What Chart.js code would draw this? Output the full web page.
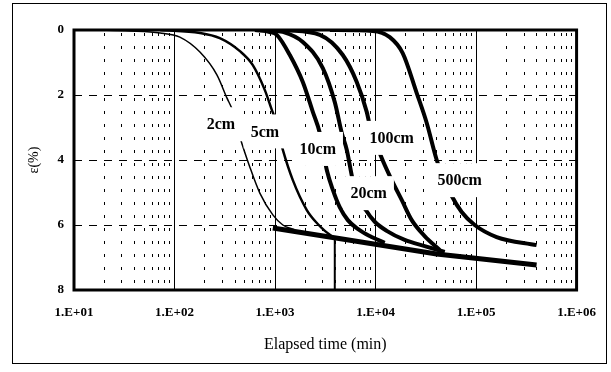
<!DOCTYPE html>
<html>
<head>
<meta charset="utf-8">
<script src="https://cdn.jsdelivr.net/npm/chart.js@4.4.1/dist/chart.umd.min.js"></script>
<style>
  html, body { margin: 0; padding: 0; background: #fff; }
</style>
</head>
<body>
<canvas id="chart" width="611" height="372"></canvas>
<script>
// elapsed time (min) / strain (%)
const t2 = [16, 36, 72, 113, 179, 264, 332, 380, 447, 562, 706, 951, 1196, 1574];
const e2 = [0, 0.03, 0.09, 0.22, 0.68, 1.38, 2.09, 2.49, 3.29, 4.22, 5.02, 5.69, 6.0, 6.15];

const t5 = [72, 179, 282, 447, 601, 792, 929, 995, 1196, 1503, 2070, 2661, 3130, 3758];
const e5 = [0, 0.09, 0.25, 0.65, 1.08, 1.85, 2.46, 2.71, 3.69, 4.62, 5.54, 5.97, 6.18, 6.37];

const t10 = [631, 887, 1042, 1403, 1889, 2376, 2789, 3273, 3760, 4400, 5300, 6650, 8750, 12330];
const e10 = [0, 0.06, 0.15, 0.77, 1.6, 2.52, 3.17, 4.31, 4.92, 5.45, 5.85, 6.12, 6.34, 6.55];

const t20 = [792, 1196, 1889, 2987, 3930, 4613, 5176, 5935, 6650, 8000, 9820, 12920, 19500, 30800, 48800];
const e20 = [0, 0.06, 0.37, 1.17, 2.22, 3.17, 3.69, 4.62, 5.08, 5.54, 5.9, 6.18, 6.46, 6.65, 6.83];

const t100 = [1251, 2789, 4720, 6500, 8170, 8750, 11520, 14490, 18200, 22900, 30800, 43500];
const e100 = [0, 0.15, 0.77, 1.6, 2.52, 2.92, 3.94, 4.62, 5.23, 5.85, 6.34, 6.77];

const t500 = [3510, 9380, 13840, 18620, 25680, 32300, 40600, 47600, 57100, 71900, 96900, 160200, 400000];
const e500 = [0, 0.03, 0.22, 0.71, 1.94, 2.86, 4.0, 4.55, 5.1, 5.6, 6.0, 6.37, 6.62];

// secondary compression line and drop line
const tLine = [951, 40600, 400000];
const eLine = [6.09, 6.89, 7.23];
const tDrop = [3930, 3930];
const eDrop = [6.37, 8];

// curve labels
const labelText = ['2cm', '5cm', '10cm', '20cm', '100cm', '500cm'];
const labelT = [289, 792, 2660, 8550, 14450, 68700];
const labelE = [2.9, 3.12, 3.66, 5.02, 3.32, 4.62];

// axes
const xTickValues = [10, 100, 1000, 10000, 100000, 1000000];
const xTickLabels = ['1.E+01', '1.E+02', '1.E+03', '1.E+04', '1.E+05', '1.E+06'];
const yTickValues = [0, 2, 4, 6, 8];

const serif = '"Liberation Serif", "Times New Roman", serif';

function pts(t, e) {
  return t.map((v, i) => ({ x: v, y: e[i] }));
}

function curve(t, e, w) {
  return {
    data: pts(t, e),
    borderColor: '#000',
    borderWidth: w,
    pointRadius: 0,
    fill: false,
    cubicInterpolationMode: 'monotone'
  };
}

function isMajor(v) {
  const l = Math.log10(v);
  return Math.abs(l - Math.round(l)) < 1e-9;
}

const curveLabels = {
  id: 'curveLabels',
  afterDatasetsDraw(chart) {
    const { ctx, scales: { x, y } } = chart;
    ctx.save();
    ctx.font = 'bold 16px ' + serif;
    ctx.textAlign = 'center';
    ctx.textBaseline = 'middle';
    labelText.forEach((txt, i) => {
      const px = x.getPixelForValue(labelT[i]);
      const py = y.getPixelForValue(labelE[i]);
      const w = ctx.measureText(txt).width;
      ctx.fillStyle = '#fff';
      ctx.fillRect(px - w / 2 - 7, py - 17, w + 14, 34);
      ctx.fillStyle = '#000';
      ctx.fillText(txt, px, py + 1);
    });
    ctx.restore();
  }
};

const frame = {
  id: 'frame',
  afterDraw(chart) {
    const { ctx, chartArea: a } = chart;
    ctx.save();
    ctx.strokeStyle = '#000';
    ctx.lineWidth = 1;
    ctx.strokeRect(12.5, 3.5, 594, 360);
    ctx.lineWidth = 3;
    ctx.strokeRect(a.left, a.top, a.right - a.left, a.bottom - a.top);
    ctx.restore();
  }
};

new Chart(document.getElementById('chart'), {
  type: 'line',
  data: {
    datasets: [
      curve(t2, e2, 1.5),
      curve(t5, e5, 2.5),
      curve(t10, e10, 4),
      curve(t20, e20, 4),
      curve(t100, e100, 4),
      curve(t500, e500, 4),
      { data: pts(tLine, eLine), borderColor: '#000', borderWidth: 5, pointRadius: 0, tension: 0 },
      { data: pts(tDrop, eDrop), borderColor: '#000', borderWidth: 2, pointRadius: 0, tension: 0 }
    ]
  },
  options: {
    responsive: false,
    animation: false,
    devicePixelRatio: 1,
    layout: { padding: { top: 30, right: 34, left: 0, bottom: 0 } },
    plugins: { legend: { display: false }, tooltip: { enabled: false } },
    scales: {
      x: {
        type: 'logarithmic',
        min: 10,
        max: 1000000,
        afterFit(scale) { scale.height = 82; },
        afterBuildTicks(scale) {
          const ticks = [];
          for (let d = 10; d < 1000000; d *= 10) {
            for (let k = 1; k <= 9; k++) ticks.push({ value: d * k });
          }
          ticks.push({ value: 1000000 });
          scale.ticks = ticks;
        },
        ticks: {
          autoSkip: false,
          maxRotation: 0,
          padding: 15,
          color: '#000',
          font: { family: serif, size: 13, weight: 'bold' },
          callback(v) {
            const i = xTickValues.findIndex(t => Math.abs(t - v) < 1e-6 * t);
            return i >= 0 ? xTickLabels[i] : '';
          }
        },
        grid: { drawTicks: false, color: '#000', lineWidth: 1 },
        border: {
          display: false,
          dash: ctx => (ctx.tick && isMajor(ctx.tick.value)) ? [] : [3, 10],
          dashOffset: 10
        },
        title: {
          display: true,
          text: 'Elapsed time (min)',
          color: '#000',
          font: { family: serif, size: 16 },
          padding: { top: 0, bottom: 18 }
        }
      },
      y: {
        reverse: true,
        min: 0,
        max: 8,
        afterFit(scale) { scale.width = 74; },
        afterBuildTicks(scale) {
          scale.ticks = yTickValues.map(v => ({ value: v }));
        },
        ticks: {
          padding: 10,
          color: '#000',
          font: { family: serif, size: 13, weight: 'bold' }
        },
        grid: { drawTicks: false, color: '#000', lineWidth: 1 },
        border: { display: false, dash: [8, 7] },
        title: {
          display: true,
          text: 'ε(%)',
          color: '#000',
          font: { family: serif, size: 14 },
          padding: { top: 26, bottom: 0 }
        }
      }
    }
  },
  plugins: [curveLabels, frame]
});
</script>
</body>
</html>
